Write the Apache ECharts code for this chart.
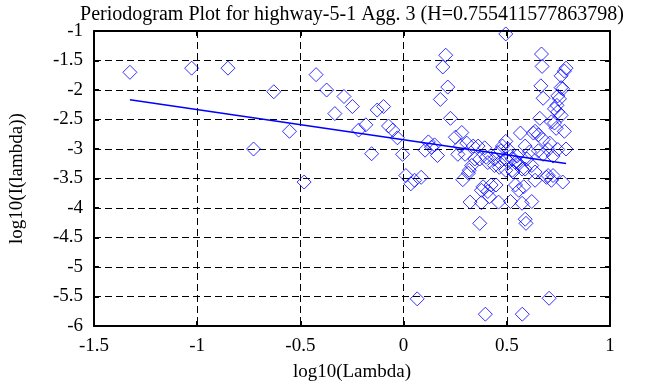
<!DOCTYPE html>
<html>
<head>
<meta charset="utf-8">
<script src="https://cdn.jsdelivr.net/npm/echarts@6/dist/echarts.min.js"></script>
<style>
html,body{margin:0;padding:0;background:#fff;}
#chart{width:658px;height:387px;}
</style>
</head>
<body>
<div id="chart"></div>
<script>
var titleText = 'Periodogram Plot for highway-5-1 Agg. 3 (H=0.755411577863798)';
var xTicks = [-1.5, -1, -0.5, 0, 0.5, 1];
var yTicks = [-6, -5.5, -5, -4.5, -4, -3.5, -3, -2.5, -2, -1.5, -1];

var logLambda = [
 -1.326,-1.027,-0.851,-0.727,-0.629,-0.553,-0.482,-0.424,-0.373,-0.333,
 -0.289,-0.248,-0.218,-0.183,-0.155,-0.128,-0.097,-0.073,-0.052,-0.030,
 -0.005,0.011,0.035,0.053,0.066,0.085,0.104,0.120,0.135,0.150,
 0.164,0.178,0.190,0.204,0.214,0.227,0.251,0.263,0.275,0.282,
 0.287,0.298,0.306,0.314,0.318,0.322,0.330,0.337,0.345,0.361,
 0.369,0.369,0.377,0.377,0.385,0.393,0.396,0.400,0.408,0.408,
 0.416,0.424,0.440,0.440,0.448,0.456,0.460,0.464,0.464,0.471,
 0.479,0.495,0.495,0.495,0.495,0.505,0.518,0.518,0.527,0.527,
 0.530,0.542,0.542,0.550,0.558,0.558,0.566,0.574,0.574,0.575,
 0.582,0.589,0.589,0.589,0.593,0.597,0.610,0.621,0.621,0.629,
 0.637,0.637,0.637,0.653,0.653,0.660,0.665,0.668,0.671,0.676,
 0.676,0.676,0.692,0.700,0.700,0.705,0.708,0.716,0.716,0.724,
 0.724,0.731,0.731,0.739,0.743,0.747,0.747,0.747,0.755,0.763,
 0.763,0.763,0.771,0.771,0.779,0.779,0.787,0.787
];
var logPeriodogram = [
 -1.70,-1.63,-1.63,-3.00,-2.03,-2.70,-3.56,-1.74,-2.00,-2.40,
 -2.11,-2.28,-2.68,-2.59,-3.08,-2.34,-2.28,-2.61,-2.68,-2.81,
 -3.09,-3.45,-3.59,-3.53,-5.54,-3.48,-3.02,-2.88,-2.97,-2.93,
 -3.11,-2.16,-1.61,-1.41,-1.95,-2.48,-2.80,-3.09,-2.95,-2.72,
 -3.52,-3.09,-2.90,-3.41,-3.36,-3.90,-3.28,-2.95,-3.17,-2.95,
 -3.17,-4.26,-3.91,-3.70,-3.64,-2.98,-5.80,-3.14,-3.72,-3.23,
 -3.81,-3.61,-3.17,-3.28,-3.61,-3.06,-3.90,-3.23,-3.31,-3.03,
 -2.95,-2.87,-1.05,-3.36,-3.17,-3.00,-3.12,-3.89,-3.17,-3.36,
 -3.39,-3.23,-3.61,-3.12,-3.25,-3.70,-2.73,-3.34,-3.92,-5.80,
 -3.64,-2.95,-3.34,-4.19,-4.26,-3.17,-3.05,-3.28,-3.89,-2.73,
 -2.70,-3.39,-3.53,-2.76,-3.03,-2.48,-1.93,-1.39,-1.60,-2.14,
 -2.84,-3.09,-3.48,-3.01,-3.45,-5.53,-2.90,-2.54,-3.53,-3.12,
 -3.45,-2.32,-2.56,-2.65,-2.26,-2.10,-2.37,-3.01,-2.15,-1.76,
 -1.96,-2.43,-1.98,-3.56,-1.68,-2.70,-1.63,-3.00
];
var fitX = [-1.326, 0.787];
var fitY = [-2.167, -3.245];

var points = logLambda.map(function(x, i){ return [x, logPeriodogram[i]]; });
var fitLine = fitX.map(function(x, i){ return [x, fitY[i]]; });

var FONT = 'Liberation Serif';
var chart = echarts.init(document.getElementById('chart'), null, {renderer:'canvas'});
var axisCommon = {
  type: 'value',
  axisLine: {show: true, onZero: false, lineStyle: {color: '#000', width: 2}},
  axisTick: {show: true, inside: true, length: 5, lineStyle: {color: '#000', width: 2}},
  splitLine: {show: false}
};
chart.setOption({
  animation: false,
  backgroundColor: '#fff',
  title: {
    text: titleText, left: 347, top: 0, textAlign: 'center',
    textStyle: {fontFamily: FONT, fontSize: 20, fontWeight: 'normal', color: '#000'}
  },
  grid: {left: 82, right: 48, top: 31, bottom: 56, containLabel: false},
  xAxis: [
    Object.assign({}, axisCommon, {
      min: xTicks[0], max: xTicks[xTicks.length-1], interval: 0.5, position: 'bottom',
      name: 'log10(Lambda)', nameLocation: 'middle', nameGap: 37,
      nameTextStyle: {fontFamily: FONT, fontSize: 19, color: '#000'},
      axisLabel: {fontFamily: FONT, fontSize: 19, color: '#000', margin: 11},
      splitLine: {show: true, lineStyle: {color: '#000', width: 1, type: [7, 4]}}
    }),
    Object.assign({}, axisCommon, {
      min: xTicks[0], max: xTicks[xTicks.length-1], interval: 0.5, position: 'top',
      axisLabel: {show: false}
    })
  ],
  yAxis: [
    Object.assign({}, axisCommon, {
      min: yTicks[0], max: yTicks[yTicks.length-1], interval: 0.5, position: 'left',
      name: 'log10(I(lambda))', nameLocation: 'middle', nameGap: 67, nameRotate: 90,
      nameTextStyle: {fontFamily: FONT, fontSize: 19, color: '#000'},
      axisLabel: {fontFamily: FONT, fontSize: 19, color: '#000', margin: 11, padding: [5, 0, 0, 0]},
      splitLine: {show: true, lineStyle: {color: '#000', width: 1, type: [7, 4]}}
    }),
    Object.assign({}, axisCommon, {
      min: yTicks[0], max: yTicks[yTicks.length-1], interval: 0.5, position: 'right',
      axisLabel: {show: false}
    })
  ],
  series: [
    {
      type: 'scatter', data: points, symbol: 'diamond', symbolSize: 14,
      itemStyle: {color: 'rgba(0,0,0,0)', borderColor: '#0000ff', borderWidth: 1},
      silent: true, z: 3
    },
    {
      type: 'line', data: fitLine, symbol: 'none',
      lineStyle: {color: '#0000ff', width: 1.5}, silent: true, z: 4
    }
  ]
});
</script>
</body>
</html>
